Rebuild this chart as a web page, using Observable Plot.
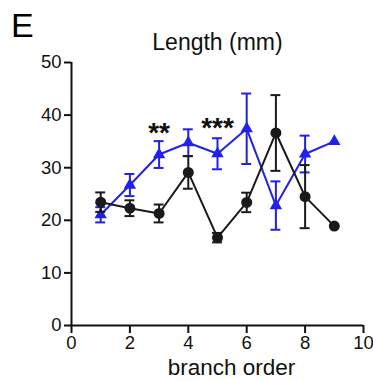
<!DOCTYPE html>
<html>
<head>
<meta charset="utf-8">
<script src="https://cdn.jsdelivr.net/npm/d3@7"></script>
<script src="https://cdn.jsdelivr.net/npm/@observablehq/plot@0.6"></script>
<style>
  body { margin: 0; background: #fff; }
  #chart svg { display: block; }
</style>
</head>
<body>
<div id="chart"></div>
<script>
const branchOrder = [1, 2, 3, 4, 5, 6, 7, 8, 9];
const blackMean = [23.45, 22.3, 21.3, 29.1, 16.7, 23.4, 36.6, 24.5, 18.9];
const blackSem  = [1.85, 1.5, 1.7, 3.1, 0.9, 1.85, 7.2, 6.0, 0];
const blueMean  = [21.05, 26.7, 32.5, 34.75, 32.65, 37.4, 22.8, 32.6, 35.0];
const blueSem   = [1.45, 2.1, 2.55, 2.55, 2.95, 6.7, 4.6, 3.5, 0];
const yTicks = [0, 10, 20, 30, 40, 50];
const xTicks = [0, 2, 4, 6, 8, 10];
const sigLabels = ["**", "***"];
const sigX = [3, 5];
const sigY = [36.6, 37.6];

const blackData = branchOrder.map((x, i) => ({x, y: blackMean[i], lo: blackMean[i] - blackSem[i], hi: blackMean[i] + blackSem[i], sem: blackSem[i]}));
const blueData = branchOrder.map((x, i) => ({x, y: blueMean[i], lo: blueMean[i] - blueSem[i], hi: blueMean[i] + blueSem[i], sem: blueSem[i]}));
const sigData = sigLabels.map((t, i) => ({t, x: sigX[i], y: sigY[i]}));

const BLUE = "#2020f0";
const BLACK = "#1a1a1a";
const capHalf = 0.17;

function errMarks(data, color) {
  const d = data.filter(v => v.sem > 0);
  return [
    Plot.ruleX(d, {x: "x", y1: "lo", y2: "hi", stroke: color, strokeWidth: 2}),
    Plot.ruleY(d, {y: "hi", x1: v => v.x - capHalf, x2: v => v.x + capHalf, stroke: color, strokeWidth: 2}),
    Plot.ruleY(d, {y: "lo", x1: v => v.x - capHalf, x2: v => v.x + capHalf, stroke: color, strokeWidth: 2})
  ];
}

const chart = Plot.plot({
  width: 373,
  height: 381,
  marginLeft: 71,
  marginRight: 10,
  marginTop: 62,
  marginBottom: 56,
  style: {fontFamily: "'Liberation Sans', Arial, sans-serif", color: "#111", background: "#fff"},
  x: {domain: [0, 10]},
  y: {domain: [0, 50]},
  marks: [
    Plot.axisY({ticks: yTicks, tickSize: 7, tickPadding: 3, strokeWidth: 2, fontSize: 18.5, label: null}),
    Plot.axisX({ticks: xTicks, tickSize: 8, tickPadding: 2, strokeWidth: 2, fontSize: 18.5, label: null}),
    Plot.ruleX([0], {stroke: "#111", strokeWidth: 2}),
    Plot.ruleY([0], {stroke: "#111", strokeWidth: 2}),
    ...errMarks(blueData, BLUE),
    Plot.line(blueData, {x: "x", y: "y", stroke: BLUE, strokeWidth: 2}),
    Plot.dot(blueData, {x: "x", y: "y", symbol: "triangle", r: 4.6, fill: BLUE, stroke: "none"}),
    ...errMarks(blackData, BLACK),
    Plot.line(blackData, {x: "x", y: "y", stroke: BLACK, strokeWidth: 2}),
    Plot.dot(blackData, {x: "x", y: "y", symbol: "circle", r: 5.5, fill: BLACK, stroke: "none"}),
    Plot.text(sigData, {x: "x", y: "y", text: "t", fontSize: 28, fontWeight: "bold", fill: "#111"}),
    Plot.text(["Length (mm)"], {frameAnchor: "top", lineAnchor: "bottom", dy: -12.5, fontSize: 23, fill: "#111"}),
    Plot.text(["E"], {frameAnchor: "top-left", textAnchor: "start", lineAnchor: "bottom", dx: -60.5, dy: -26, fontSize: 34, fill: "#000"}),
    Plot.text(["branch order"], {frameAnchor: "bottom", lineAnchor: "bottom", dx: 14, dy: 49, fontSize: 22.5, fill: "#111"})
  ]
});
document.getElementById("chart").appendChild(chart);
</script>
</body>
</html>
